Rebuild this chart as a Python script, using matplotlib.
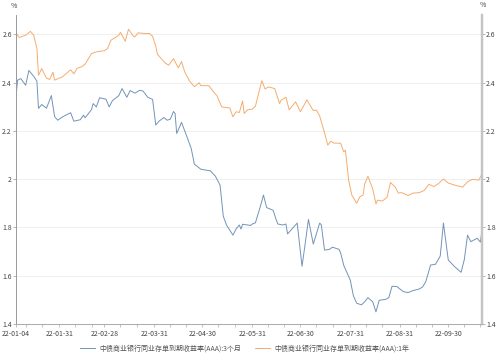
import matplotlib
matplotlib.use("Agg")
import matplotlib.pyplot as plt
import matplotlib.dates as mdates
import pandas as pd

plt.rcParams['font.family'] = ['Noto Sans CJK SC', 'DejaVu Sans']

# 3-month yield (blue)
dates_3m = ['2022-01-04', '2022-01-05', '2022-01-07', '2022-01-10', '2022-01-12', '2022-01-15',
            '2022-01-17', '2022-01-18', '2022-01-20', '2022-01-23', '2022-01-26', '2022-01-28',
            '2022-01-30', '2022-02-02', '2022-02-07', '2022-02-09', '2022-02-13', '2022-02-15',
            '2022-02-16', '2022-02-20', '2022-02-21', '2022-02-23', '2022-02-25', '2022-03-01',
            '2022-03-03', '2022-03-05', '2022-03-09', '2022-03-11', '2022-03-14', '2022-03-16',
            '2022-03-19', '2022-03-22', '2022-03-24', '2022-03-27', '2022-03-30', '2022-04-01',
            '2022-04-03', '2022-04-06', '2022-04-08', '2022-04-10', '2022-04-12', '2022-04-13',
            '2022-04-14', '2022-04-17', '2022-04-20', '2022-04-23', '2022-04-25', '2022-04-29',
            '2022-05-05', '2022-05-08', '2022-05-11', '2022-05-13', '2022-05-15', '2022-05-19',
            '2022-05-21', '2022-05-23', '2022-05-24', '2022-05-25', '2022-05-28', '2022-05-30',
            '2022-05-31', '2022-06-02', '2022-06-05', '2022-06-07', '2022-06-09', '2022-06-13',
            '2022-06-15', '2022-06-16', '2022-06-19', '2022-06-21', '2022-06-22', '2022-06-28',
            '2022-07-01', '2022-07-03', '2022-07-05', '2022-07-08', '2022-07-12', '2022-07-13',
            '2022-07-15', '2022-07-18', '2022-07-20', '2022-07-24', '2022-07-25', '2022-07-27',
            '2022-07-31', '2022-08-02', '2022-08-04', '2022-08-07', '2022-08-09', '2022-08-11',
            '2022-08-14', '2022-08-16', '2022-08-18', '2022-08-22', '2022-08-24', '2022-08-26',
            '2022-08-29', '2022-09-02', '2022-09-05', '2022-09-08', '2022-09-12', '2022-09-14',
            '2022-09-16', '2022-09-19', '2022-09-22', '2022-09-25', '2022-09-27', '2022-09-30',
            '2022-10-04', '2022-10-08', '2022-10-10', '2022-10-12', '2022-10-14', '2022-10-18',
            '2022-10-20', '2022-10-21']
yield_3m = [2.343, 2.410, 2.416, 2.389, 2.450, 2.426,
            2.406, 2.293, 2.309, 2.294, 2.346, 2.259,
            2.244, 2.258, 2.275, 2.240, 2.246, 2.265,
            2.254, 2.288, 2.313, 2.299, 2.337, 2.331,
            2.299, 2.325, 2.346, 2.375, 2.339, 2.367,
            2.356, 2.368, 2.365, 2.339, 2.330, 2.224,
            2.240, 2.255, 2.244, 2.248, 2.280, 2.272,
            2.189, 2.235, 2.182, 2.128, 2.062, 2.041,
            2.034, 2.013, 1.975, 1.846, 1.810, 1.768,
            1.794, 1.810, 1.793, 1.813, 1.810, 1.808,
            1.814, 1.819, 1.885, 1.934, 1.882, 1.871,
            1.830, 1.814, 1.810, 1.814, 1.773, 1.818,
            1.639, 1.734, 1.833, 1.731, 1.818, 1.810,
            1.706, 1.709, 1.718, 1.709, 1.695, 1.642,
            1.582, 1.516, 1.486, 1.479, 1.492, 1.509,
            1.492, 1.450, 1.498, 1.502, 1.509, 1.556,
            1.555, 1.534, 1.530, 1.538, 1.545, 1.553,
            1.575, 1.644, 1.647, 1.681, 1.818, 1.665,
            1.637, 1.614, 1.667, 1.768, 1.741, 1.755,
            1.739, 1.788]

# 1-year yield (orange)
dates_1y = ['2022-01-04', '2022-01-06', '2022-01-10', '2022-01-13', '2022-01-15', '2022-01-17',
            '2022-01-18', '2022-01-20', '2022-01-23', '2022-01-25', '2022-01-27', '2022-01-28',
            '2022-02-02', '2022-02-07', '2022-02-09', '2022-02-11', '2022-02-14', '2022-02-16',
            '2022-02-20', '2022-02-23', '2022-02-28', '2022-03-02', '2022-03-04', '2022-03-09',
            '2022-03-10', '2022-03-13', '2022-03-15', '2022-03-18', '2022-03-19', '2022-03-21',
            '2022-03-25', '2022-03-28', '2022-03-30', '2022-04-01', '2022-04-02', '2022-04-07',
            '2022-04-09', '2022-04-12', '2022-04-15', '2022-04-17', '2022-04-19', '2022-04-22',
            '2022-04-25', '2022-04-28', '2022-04-29', '2022-05-04', '2022-05-07', '2022-05-09',
            '2022-05-12', '2022-05-17', '2022-05-19', '2022-05-21', '2022-05-23', '2022-05-25',
            '2022-05-26', '2022-05-28', '2022-05-31', '2022-06-02', '2022-06-06', '2022-06-08',
            '2022-06-10', '2022-06-14', '2022-06-17', '2022-06-18', '2022-06-21', '2022-06-23',
            '2022-06-27', '2022-06-30', '2022-07-04', '2022-07-08', '2022-07-10', '2022-07-12',
            '2022-07-15', '2022-07-17', '2022-07-19', '2022-07-21', '2022-07-25', '2022-07-27',
            '2022-07-28', '2022-07-30', '2022-08-01', '2022-08-04', '2022-08-06', '2022-08-08',
            '2022-08-09', '2022-08-11', '2022-08-14', '2022-08-16', '2022-08-17', '2022-08-20',
            '2022-08-23', '2022-08-25', '2022-08-28', '2022-08-30', '2022-09-01', '2022-09-05',
            '2022-09-08', '2022-09-12', '2022-09-15', '2022-09-18', '2022-09-21', '2022-09-24',
            '2022-09-27', '2022-09-30', '2022-10-04', '2022-10-09', '2022-10-12', '2022-10-15',
            '2022-10-19', '2022-10-21']
yield_1y = [2.605, 2.587, 2.596, 2.612, 2.596, 2.542,
            2.430, 2.458, 2.418, 2.413, 2.443, 2.410,
            2.424, 2.453, 2.436, 2.459, 2.466, 2.476,
            2.520, 2.527, 2.532, 2.541, 2.575, 2.596,
            2.608, 2.571, 2.621, 2.592, 2.589, 2.606,
            2.603, 2.603, 2.592, 2.550, 2.517, 2.480,
            2.472, 2.499, 2.461, 2.487, 2.444, 2.406,
            2.383, 2.399, 2.387, 2.387, 2.361, 2.346,
            2.299, 2.295, 2.258, 2.279, 2.276, 2.324,
            2.272, 2.287, 2.290, 2.302, 2.408, 2.373,
            2.382, 2.375, 2.313, 2.327, 2.339, 2.287,
            2.320, 2.279, 2.328, 2.284, 2.286, 2.261,
            2.192, 2.141, 2.157, 2.149, 2.149, 2.113,
            2.120, 1.996, 1.934, 1.900, 1.927, 1.934,
            1.979, 2.012, 1.959, 1.897, 1.913, 1.909,
            1.926, 1.986, 1.967, 1.942, 1.944, 1.932,
            1.942, 1.944, 1.953, 1.979, 1.969, 1.982,
            2.000, 1.984, 1.975, 1.967, 1.989, 1.999,
            1.996, 2.021]

tick_dates = ['2022-01-04', '2022-01-31', '2022-02-28', '2022-03-31', '2022-04-30',
              '2022-05-31', '2022-06-30', '2022-07-31', '2022-08-31', '2022-09-30']
y_ticks = [1.4, 1.6, 1.8, 2.0, 2.2, 2.4, 2.6]

label_3m = '中债商业银行同业存单到期收益率(AAA):3个月'
label_1y = '中债商业银行同业存单到期收益率(AAA):1年'

blue = '#7393b8'
orange = '#f5ac6e'

fig = plt.figure(figsize=(5, 3.56), dpi=100)
ax = fig.add_axes([0.032, 0.09, 0.932, 0.868])

ax.plot(pd.to_datetime(dates_3m), yield_3m, color=blue, lw=0.7, label=label_3m)
ax.plot(pd.to_datetime(dates_1y), yield_1y, color=orange, lw=0.7, label=label_1y)

ax.set_xlim(pd.Timestamp('2022-01-04'), pd.Timestamp('2022-10-21'))
ax.set_ylim(1.4, 2.68)

# gridlines
ax.set_yticks(y_ticks)
ax.grid(axis='y', color='#ececec', lw=0.6)
ax.set_axisbelow(True)
ax.set_yticklabels(['1.4', '1.6', '1.8', '2', '2.2', '2.4', '2.6'], fontsize=5, color='#444444')
ax.tick_params(axis='y', length=2, width=0.5, color='#999999', pad=1)

# right axis copy
ax2 = ax.twinx()
ax2.set_ylim(ax.get_ylim())
ax2.set_yticks(y_ticks)
ax2.set_yticklabels(['1.4', '1.6', '1.8', '2', '2.2', '2.4', '2.6'], fontsize=5, color='#444444')
ax2.tick_params(axis='y', length=2, width=0.5, color='#999999', pad=1)

ax.set_xticks(pd.to_datetime(tick_dates))
ax.xaxis.set_major_formatter(mdates.DateFormatter('%y-%m-%d'))
ax.xaxis.set_minor_locator(mdates.DayLocator(bymonthday=[10, 20]))
ax.tick_params(axis='x', which='both', length=2, width=0.5, color='#aaaaaa', labelsize=5,
               labelcolor='#444444', pad=2)

for a in (ax, ax2):
    a.spines['top'].set_visible(False)
    a.spines['left'].set_color('#9a9a9a')
    a.spines['left'].set_linewidth(0.6)
    a.spines['bottom'].set_color('#aaaaaa')
    a.spines['bottom'].set_linewidth(0.6)
    a.spines['right'].set_color('#c4c4c4')
    a.spines['right'].set_linewidth(1.6)

fig.text(0.028, 0.983, '%', fontsize=5, color='#444444', ha='center', va='center')
fig.text(0.966, 0.986, '%', fontsize=5, color='#444444', ha='center', va='center')

ax.legend(loc='upper center', bbox_to_anchor=(0.49, -0.045), ncol=2, frameon=False,
          fontsize=5, handlelength=2.2, columnspacing=2.0, handletextpad=0.6,
          labelcolor='#555555')

fig.savefig('out.png', dpi=100)
